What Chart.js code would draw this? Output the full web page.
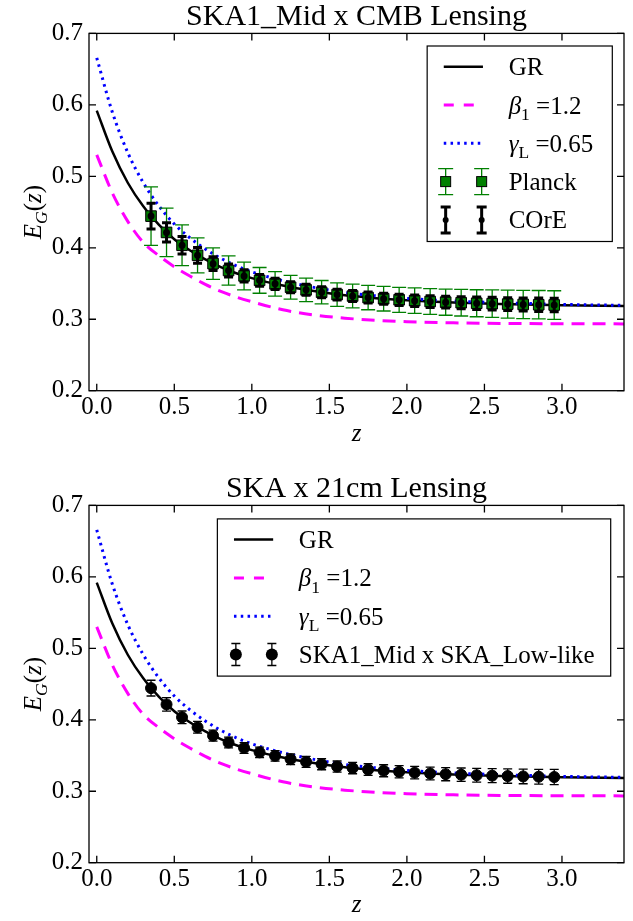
<!DOCTYPE html>
<html>
<head>
<meta charset="utf-8">
<title>E_G(z) forecasts</title>
<script src="https://cdn.jsdelivr.net/npm/chart.js@4.4.0/dist/chart.umd.min.js"></script>
<style>
  html, body { margin: 0; padding: 0; background: #fff; }
  #wrap { position: relative; width: 633px; height: 921px; overflow: hidden; }
  .panel { position: absolute; left: 0; width: 633px; }
  canvas { display: block; }
</style>
</head>
<body>
<div id="wrap">
  <div class="panel" style="top:0"><canvas id="topChart" width="633" height="472"></canvas></div>
  <div class="panel" style="top:472px"><canvas id="bottomChart" width="633" height="449"></canvas></div>
</div>
<script>
// ========================================
// E_G(z) - theory curves vs. lensing forecasts
// ========================================

// axis ticks
const xTicks = [0.0, 0.5, 1.0, 1.5, 2.0, 2.5, 3.0];
const yTicks = [0.2, 0.3, 0.4, 0.5, 0.6, 0.7];

// theory curves
const zCurve   = [0, 0.1, 0.2, 0.3, 0.4, 0.5, 0.6, 0.7, 0.8, 0.9, 1.0, 1.2, 1.4, 1.6, 1.8, 2.0, 2.3, 2.6, 3.0, 3.4];
const egGR     = [0.592, 0.535, 0.491, 0.458, 0.4325, 0.412, 0.3965, 0.3837, 0.373, 0.3644, 0.3575, 0.3472, 0.3395, 0.3335, 0.3295, 0.3266, 0.3235, 0.3215, 0.3197, 0.3185];
const egBeta   = [0.530, 0.477, 0.437, 0.4075, 0.389, 0.3735, 0.3605, 0.3488, 0.339, 0.331, 0.3245, 0.3132, 0.306, 0.3015, 0.2985, 0.2965, 0.295, 0.2942, 0.2937, 0.2935];
const egGamma  = [0.6657, 0.5901, 0.5332, 0.491, 0.4588, 0.4333, 0.414, 0.3983, 0.3852, 0.3748, 0.3663, 0.3538, 0.3446, 0.3375, 0.3327, 0.3292, 0.3255, 0.3232, 0.3208, 0.3194];

// forecast points (fiducial GR) and 1-sigma errors
const zPoints  = [0.35, 0.45, 0.55, 0.65, 0.75, 0.85, 0.95, 1.05, 1.15, 1.25, 1.35, 1.45, 1.55, 1.65,
                  1.75, 1.85, 1.95, 2.05, 2.15, 2.25, 2.35, 2.45, 2.55, 2.65, 2.75, 2.85, 2.95];
const egPoints = [0.4443, 0.4215, 0.4035, 0.3895, 0.3778, 0.3682, 0.3606, 0.3544, 0.3495, 0.3448, 0.3411, 0.3378, 0.3345, 0.3325,
                  0.3303, 0.3287, 0.3272, 0.326, 0.3248, 0.3239, 0.3231, 0.3224, 0.3218, 0.3212, 0.3207, 0.3203, 0.3199];
const errPlanck = [0.041, 0.034, 0.0285, 0.0245, 0.022, 0.0204, 0.0194, 0.018, 0.0172, 0.0167, 0.0164, 0.0164, 0.0164, 0.0166,
                   0.017, 0.0172, 0.0175, 0.0178, 0.018, 0.0183, 0.0186, 0.0189, 0.0192, 0.0195, 0.0197, 0.0199, 0.02];
const errCore   = [0.018, 0.0135, 0.0122, 0.011, 0.0095, 0.009, 0.0085, 0.0082, 0.008, 0.0078, 0.0077, 0.0076, 0.0076, 0.0076,
                   0.0077, 0.0078, 0.0079, 0.008, 0.0082, 0.0083, 0.0085, 0.0086, 0.0088, 0.009, 0.0091, 0.0093, 0.0095];
const errSka    = [0.011, 0.0095, 0.0088, 0.0082, 0.0078, 0.0076, 0.0075, 0.0074, 0.0074, 0.0075, 0.0076, 0.0077, 0.0078, 0.008,
                   0.0082, 0.0084, 0.0086, 0.0088, 0.009, 0.0092, 0.0094, 0.0096, 0.0098, 0.01, 0.0102, 0.0104, 0.0106];

const SERIF = "'Liberation Serif', 'Times New Roman', 'DejaVu Serif', serif";
const GREEN = '#008000';
const MAGENTA = '#ff00ff';
const BLUE = '#0000ff';

Chart.defaults.font.family = SERIF;
Chart.defaults.color = '#000';

// ---------- small helpers ----------

// draw text made of pieces: [text, italic, subscript]
function mathText(ctx, parts, x, y, size, dry) {
    let cx = x;
    parts.forEach(([t, italic, sub]) => {
        const s = sub ? size * 0.7 : size;
        ctx.font = (italic ? 'italic ' : '') + s + 'px ' + SERIF;
        if (!dry) ctx.fillText(t, cx, sub ? y + size * 0.25 : y);
        cx += ctx.measureText(t).width;
    });
    return cx - x;
}

function errorGlyph(ctx, x, yHi, yLo, cap, color, width) {
    ctx.strokeStyle = color;
    ctx.lineWidth = width;
    ctx.beginPath();
    ctx.moveTo(x, yHi); ctx.lineTo(x, yLo);
    ctx.moveTo(x - cap, yHi); ctx.lineTo(x + cap, yHi);
    ctx.moveTo(x - cap, yLo); ctx.lineTo(x + cap, yLo);
    ctx.stroke();
}

const toXY = (xs, ys) => xs.map((v, i) => ({ x: v, y: ys[i] }));

// ---------- plugins ----------

// vertical error bars, drawn under each dataset's markers
const errorBars = {
    id: 'errorBars',
    beforeDatasetDraw(chart, args) {
        const ds = chart.data.datasets[args.index];
        if (!ds.errors) return;
        const { ctx, scales: { x, y } } = chart;
        ctx.save();
        ds.data.forEach((p, i) => {
            const px = x.getPixelForValue(p.x);
            errorGlyph(ctx, px,
                y.getPixelForValue(p.y + ds.errors[i]),
                y.getPixelForValue(p.y - ds.errors[i]),
                ds.capHalf, ds.errorColor, ds.errorWidth);
        });
        ctx.restore();
    }
};

// box round the plot with inward ticks on all sides
const frame = {
    id: 'frame',
    afterDatasetsDraw(chart) {
        const { ctx, chartArea: a, scales: { x, y } } = chart;
        ctx.save();
        ctx.strokeStyle = '#000';
        ctx.lineWidth = 1.3;
        ctx.strokeRect(a.left, a.top, a.right - a.left, a.bottom - a.top);
        ctx.beginPath();
        x.ticks.forEach(t => {
            const p = x.getPixelForValue(t.value);
            ctx.moveTo(p, a.bottom); ctx.lineTo(p, a.bottom - 7);
            ctx.moveTo(p, a.top); ctx.lineTo(p, a.top + 7);
        });
        y.ticks.forEach(t => {
            const p = y.getPixelForValue(t.value);
            ctx.moveTo(a.left, p); ctx.lineTo(a.left + 7, p);
            ctx.moveTo(a.right, p); ctx.lineTo(a.right - 7, p);
        });
        ctx.stroke();
        ctx.restore();
    }
};

// title centred over the axes (not the whole canvas)
const axesTitle = {
    id: 'axesTitle',
    afterDraw(chart, args, opts) {
        const { ctx, chartArea: a } = chart;
        ctx.save();
        ctx.fillStyle = '#000';
        ctx.font = '30px ' + SERIF;
        ctx.textAlign = 'center';
        ctx.textBaseline = 'middle';
        ctx.fillText(opts.text, (a.left + a.right) / 2, a.top - 16);
        ctx.restore();
    }
};

// rotated E_G(z) label
const yLabel = {
    id: 'yLabel',
    afterDraw(chart) {
        const { ctx, chartArea: a } = chart;
        const parts = [['E', true], ['G', true, true], ['(', false], ['z', true], [')', false]];
        ctx.save();
        ctx.translate(41, (a.top + a.bottom) / 2);
        ctx.rotate(-Math.PI / 2);
        ctx.fillStyle = '#000';
        ctx.textBaseline = 'alphabetic';
        const w = mathText(ctx, parts, 0, 0, 25, true);
        mathText(ctx, parts, -w / 2, 0, 25);
        ctx.restore();
    }
};

function drawSample(ctx, it, left, cy) {
    const marks = [left + 18.5, left + 54.5];
    if (it.kind === 'line') {
        ctx.strokeStyle = it.color;
        ctx.lineWidth = it.width;
        ctx.setLineDash(it.dash || []);
        ctx.beginPath();
        ctx.moveTo(left + 16.6, cy);
        ctx.lineTo(left + 55.8, cy);
        ctx.stroke();
        ctx.setLineDash([]);
        return;
    }
    marks.forEach(mx => {
        if (it.kind === 'planck') {
            errorGlyph(ctx, mx, cy - 13, cy + 13, 7.5, GREEN, 1.3);
            ctx.fillStyle = GREEN;
            ctx.fillRect(mx - 5, cy - 5, 10, 10);
            ctx.strokeStyle = '#000'; ctx.lineWidth = 1;
            ctx.strokeRect(mx - 5, cy - 5, 10, 10);
        } else if (it.kind === 'core') {
            errorGlyph(ctx, mx, cy - 13, cy + 13, 5, '#000', 3);
            ctx.fillStyle = '#000';
            ctx.beginPath(); ctx.arc(mx, cy, 3, 0, Math.PI * 2); ctx.fill();
        } else if (it.kind === 'ska') {
            errorGlyph(ctx, mx, cy - 11, cy + 11, 4.5, '#000', 1.3);
            ctx.fillStyle = '#000';
            ctx.beginPath(); ctx.arc(mx, cy, 6, 0, Math.PI * 2); ctx.fill();
        }
    });
}

// legend box with math labels and error-bar samples
const mathLegend = {
    id: 'mathLegend',
    afterDraw(chart, args, opts) {
        const { ctx, chartArea: a } = chart;
        const size = 25, rowH = 38.3;
        const items = opts.items;
        const textW = Math.max(...items.map(it => mathText(ctx, it.text, 0, 0, size, true)));
        const w = 81.5 + textW + opts.pad;
        const h = items.length * rowH + 4;
        const left = a.right - opts.right - w;
        const top = a.top + opts.top;
        ctx.save();
        ctx.fillStyle = '#fff';
        ctx.fillRect(left, top, w, h);
        ctx.strokeStyle = '#000';
        ctx.lineWidth = 1.2;
        ctx.strokeRect(left, top, w, h);
        ctx.textBaseline = 'alphabetic';
        items.forEach((it, i) => {
            const cy = top + 20.7 + i * rowH;
            drawSample(ctx, it, left, cy);
            ctx.fillStyle = '#000';
            mathText(ctx, it.text, left + 81.5, cy + 8.5, size);
        });
        ctx.restore();
    }
};

// ---------- chart builder ----------

const curveItems = [
    { kind: 'line', text: [['GR', false]], color: '#000', width: 2.5 },
    { kind: 'line', text: [['\u03B2', true], ['1', false, true], [' =1.2', false]], color: MAGENTA, width: 3, dash: [10, 10] },
    { kind: 'line', text: [['\u03B3', true], ['L', false, true], [' =0.65', false]], color: BLUE, width: 3, dash: [2.5, 4.3] }
];

function curveDatasets() {
    return [
        { data: toXY(zCurve, egGR), borderColor: '#000', borderWidth: 2.5, order: 5 },
        { data: toXY(zCurve, egBeta), borderColor: MAGENTA, borderWidth: 3, borderDash: [13, 8], order: 4 },
        { data: toXY(zCurve, egGamma), borderColor: BLUE, borderWidth: 3, borderDash: [2.5, 4.3], order: 3 }
    ].map(d => Object.assign(d, { showLine: true, pointRadius: 0, fill: false, cubicInterpolationMode: 'monotone' }));
}

function buildChart(id, title, pointSets, legendItems, legendPos, canvasH, xTitlePad) {
    const ctx = document.getElementById(id).getContext('2d');
    return new Chart(ctx, {
        type: 'scatter',
        data: { datasets: curveDatasets().concat(pointSets) },
        options: {
            responsive: false,
            animation: false,
            events: [],
            layout: { padding: { left: 0, right: 9, top: 33.4, bottom: 0 } },
            plugins: {
                legend: { display: false },
                tooltip: { enabled: false },
                title: { display: false },
                axesTitle: { text: title },
                mathLegend: { items: legendItems, right: legendPos.right, top: legendPos.top, pad: legendPos.pad }
            },
            scales: {
                x: {
                    type: 'linear',
                    min: -0.05,
                    max: 3.4,
                    grid: { display: false, drawTicks: false },
                    border: { display: false },
                    afterBuildTicks: s => { s.ticks = xTicks.map(v => ({ value: v })); },
                    afterFit: s => { s.height = canvasH - 390.7; },
                    ticks: {
                        padding: 2,
                        font: { family: SERIF, size: 25 },
                        color: '#000',
                        maxRotation: 0,
                        callback: v => v.toFixed(1)
                    },
                    title: {
                        display: true,
                        text: 'z',
                        color: '#000',
                        font: { family: SERIF, size: 25, style: 'italic', lineHeight: 1 },
                        padding: { top: 0, bottom: xTitlePad }
                    }
                },
                y: {
                    min: 0.2,
                    max: 0.7,
                    grid: { display: false, drawTicks: false },
                    border: { display: false },
                    afterBuildTicks: s => { s.ticks = yTicks.map(v => ({ value: v })); },
                    afterFit: s => { s.width = 89; },
                    ticks: {
                        padding: 6,
                        font: { family: SERIF, size: 25 },
                        color: '#000',
                        callback: v => v.toFixed(1)
                    }
                }
            }
        },
        plugins: [errorBars, frame, axesTitle, yLabel, mathLegend]
    });
}

// ---------- panels ----------

const planckSet = {
    data: toXY(zPoints, egPoints),
    pointStyle: 'rect', pointRadius: 7.5,
    backgroundColor: GREEN, borderColor: '#000', borderWidth: 1,
    errors: errPlanck, errorColor: GREEN, errorWidth: 1.3, capHalf: 7,
    order: 2
};
const coreSet = {
    data: toXY(zPoints, egPoints),
    pointStyle: 'circle', pointRadius: 3.5,
    backgroundColor: '#000', borderColor: '#000', borderWidth: 0,
    errors: errCore, errorColor: '#000', errorWidth: 3, capHalf: 4.5,
    order: 1
};
const skaSet = {
    data: toXY(zPoints, egPoints),
    pointStyle: 'circle', pointRadius: 5.5,
    backgroundColor: '#000', borderColor: '#000', borderWidth: 1,
    errors: errSka, errorColor: '#000', errorWidth: 1.3, capHalf: 4.5,
    order: 1
};

buildChart('topChart', 'SKA1_Mid x CMB Lensing', [planckSet, coreSet],
    curveItems.concat([
        { kind: 'planck', text: [['Planck', false]] },
        { kind: 'core', text: [['COrE', false]] }
    ]),
    { right: 11.7, top: 12.6, pad: 19 }, 472, 25.5);

buildChart('bottomChart', 'SKA x 21cm Lensing', [skaSet],
    curveItems.concat([
        { kind: 'ska', text: [['SKA1_Mid x SKA_Low-like', false]] }
    ]),
    { right: 13.3, top: 13.5, pad: 16 }, 449, 3.2);
</script>
</body>
</html>
